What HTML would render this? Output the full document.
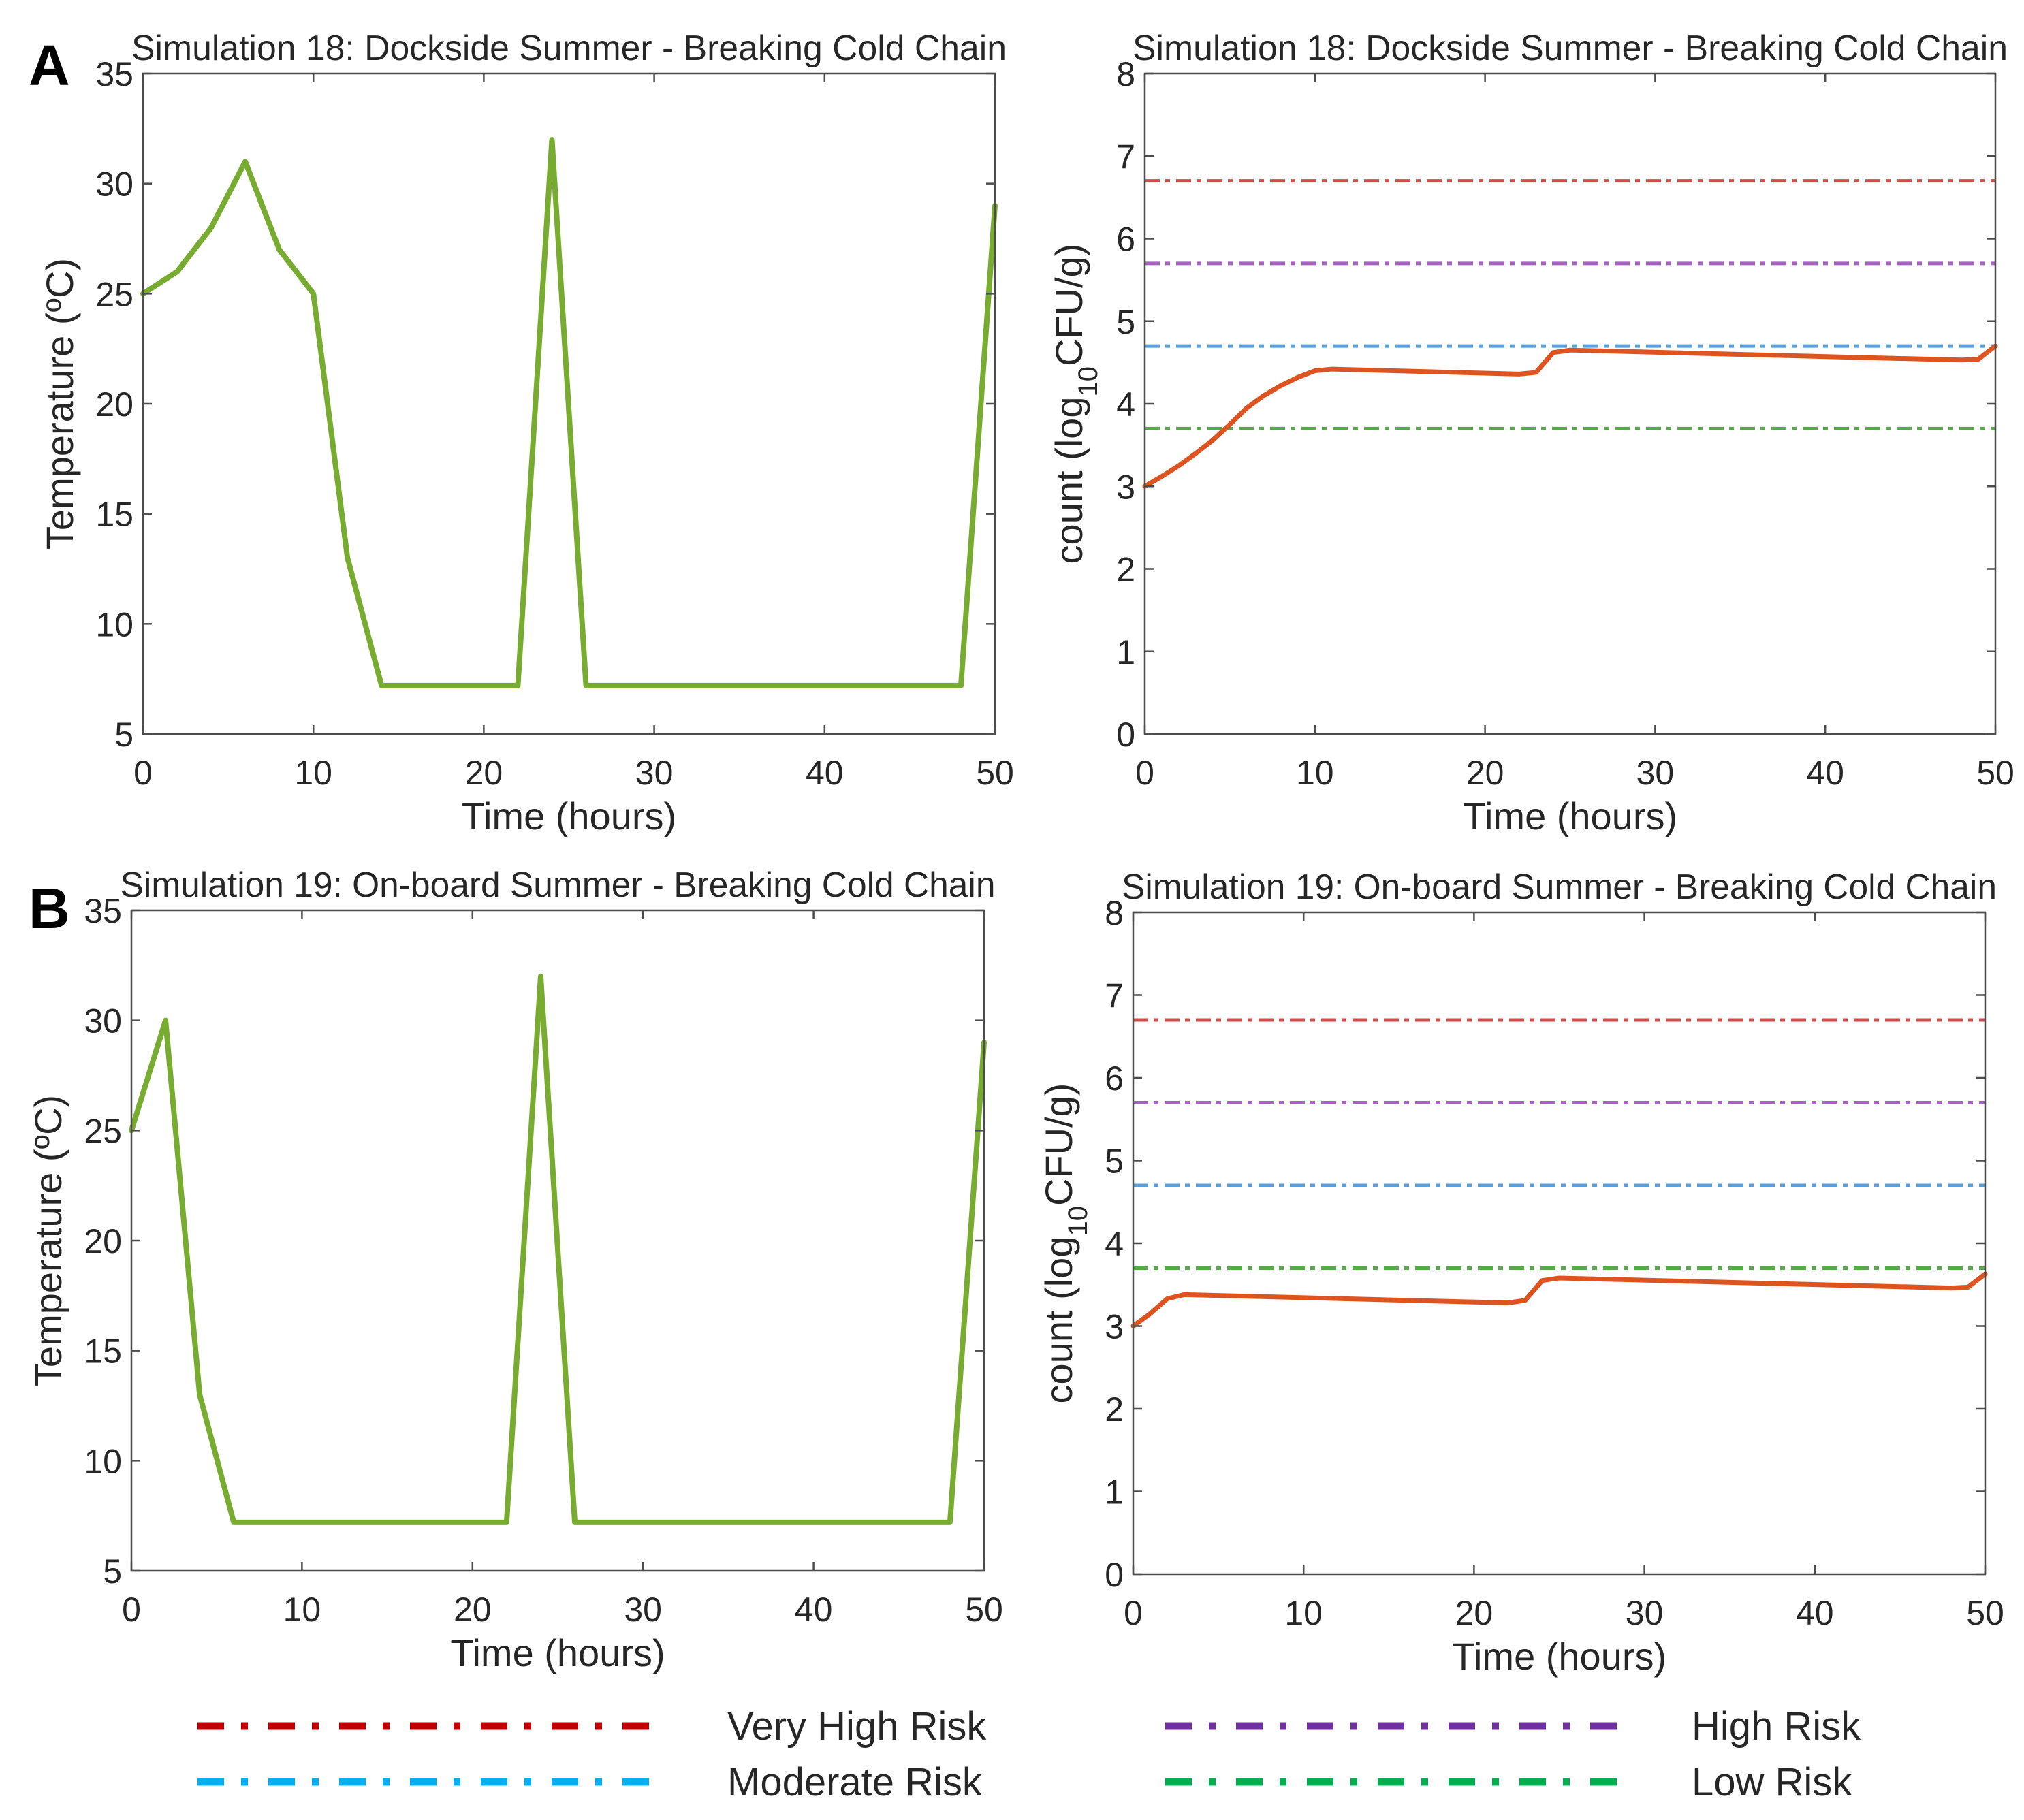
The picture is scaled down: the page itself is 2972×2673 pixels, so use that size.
<!DOCTYPE html>
<html><head><meta charset="utf-8"><style>
html,body{margin:0;padding:0;background:#fff}
svg{display:block}
text{font-family:"Liberation Sans",sans-serif;fill:#262626}
</style></head><body>
<svg id="fig" width="2972" height="2673" viewBox="0 0 2972 2673" xmlns="http://www.w3.org/2000/svg">
<text x="42" y="125" style="font-size:84px;font-weight:bold;fill:#000">A</text>
<text x="42" y="1363" style="font-size:84px;font-weight:bold;fill:#000">B</text>
<g id="legend"></g>
</svg>
<script>
const timesA = [0,2,4,6,8,10,12,14,22,24,26,48,50];
const tempA = [25,26,28,31,27,25,13,7.2,7.2,32,7.2,7.2,29];
const timesB = [0,2,4,6,22,24,26,48,50];
const tempB = [25,30,13,7.2,7.2,32,7.2,7.2,29];
const countTimesA = [0,1,2,3,4,5,6,7,8,9,10,11,22,23,24,25,48,49,50];
const countA = [3.0,3.12,3.25,3.4,3.56,3.75,3.95,4.1,4.22,4.32,4.4,4.42,4.36,4.38,4.62,4.65,4.53,4.54,4.7];
const countTimesB = [0,1,2,3,22,23,24,25,48,49,50];
const countB = [3.0,3.15,3.33,3.38,3.28,3.31,3.55,3.58,3.46,3.47,3.63];
const thresholds = [6.7,5.7,4.7,3.7];
const thresholdNames = ['very-high-risk','high-risk','moderate-risk','low-risk'];
const xTicks = [0,10,20,30,40,50];
const tempTicks = [5,10,15,20,25,30,35];
const countTicks = [0,1,2,3,4,5,6,7,8];

const NS='http://www.w3.org/2000/svg';
const svg=document.getElementById('fig');
function mk(tag,attrs,parent){const e=document.createElementNS(NS,tag);for(const k in attrs)e.setAttribute(k,attrs[k]);(parent||svg).appendChild(e);return e;}

function chart(cfg){
  const g=mk('g',{});
  
  
  const {x0,x1,y0,y1,ymin,ymax}=cfg;
  const sx=v=>x0+(v-0)/(50-0)*(x1-x0);
  const sy=v=>y1-(v-ymin)/(ymax-ymin)*(y1-y0);
  if(cfg.thr){
    const cols=['#c9504f','#a862c4','#5b9fdc','#5aa84c'];
    thresholds.forEach((t,i)=>{
      const l=mk('line',{x1:x0,x2:x1,y1:sy(t),y2:sy(t),stroke:cols[i],'stroke-width':5,'stroke-dasharray':'22 8 7 9'},g);
      
      
    });
  }
  const pts=cfg.xs.map((t,i)=>sx(t)+','+sy(cfg.ys[i])).join(' ');
  const pl=mk('polyline',{points:pts,fill:'none',stroke:cfg.color,'stroke-width':cfg.lw,'stroke-linejoin':'round','stroke-linecap':'round'},g);
  
  
  const box=mk('rect',{x:x0,y:y0,width:x1-x0,height:y1-y0,fill:'none',stroke:'#4d4d4d','stroke-width':2.5},g);
  
  
  xTicks.forEach(t=>{
    const X=sx(t);
    mk('line',{x1:X,x2:X,y1:y1,y2:y1-13,stroke:'#4d4d4d','stroke-width':2.5},g);
    mk('line',{x1:X,x2:X,y1:y0,y2:y0+13,stroke:'#4d4d4d','stroke-width':2.5},g);
    const tx=mk('text',{x:X,y:y1+74,'text-anchor':'middle','font-size':50},g);
    tx.textContent=t;
    
    
  });
  cfg.yTicks.forEach(t=>{
    const Y=sy(t);
    mk('line',{x1:x0,x2:x0+13,y1:Y,y2:Y,stroke:'#4d4d4d','stroke-width':2.5},g);
    mk('line',{x1:x1,x2:x1-13,y1:Y,y2:Y,stroke:'#4d4d4d','stroke-width':2.5},g);
    const tx=mk('text',{x:x0-14,y:Y+18,'text-anchor':'end','font-size':50},g);
    tx.textContent=t;
    
    
  });
  const tt=mk('text',{x:(x0+x1)/2,y:y0-20,'text-anchor':'middle','font-size':52,fill:'#000',textLength:1285,lengthAdjust:'spacingAndGlyphs'},g);
  tt.textContent=cfg.title;
  
  
  const xt=mk('text',{x:(x0+x1)/2,y:y1+140,'text-anchor':'middle','font-size':56},g);
  xt.textContent='Time (hours)';
  
  
  const cy=(y0+y1)/2;
  const yt=mk('text',{x:cfg.ytx,y:cy,'text-anchor':'middle','font-size':56,transform:`rotate(-90 ${cfg.ytx} ${cy})`},g);
  
  
  if(cfg.count){
    yt.innerHTML='count (log<tspan baseline-shift="sub" font-size="40">10</tspan>CFU/g)';
  } else yt.textContent='Temperature (ºC)';
}
chart({name:'chart-a-temperature',x0:210,x1:1461,y0:108,y1:1078,ymin:5,ymax:35,yTicks:tempTicks,xs:timesA,ys:tempA,color:'#77ac30',lw:8,seriesName:'temperature-line',title:'Simulation 18: Dockside Summer - Breaking Cold Chain',ytx:107});
chart({name:'chart-a-count',x0:1681,x1:2930,y0:108,y1:1078,ymin:0,ymax:8,yTicks:countTicks,xs:countTimesA,ys:countA,color:'#dd5420',lw:7,seriesName:'count-line',thr:true,count:true,title:'Simulation 18: Dockside Summer - Breaking Cold Chain',ytx:1589});
chart({name:'chart-b-temperature',x0:193,x1:1445,y0:1337,y1:2307,ymin:5,ymax:35,yTicks:tempTicks,xs:timesB,ys:tempB,color:'#77ac30',lw:8,seriesName:'temperature-line',title:'Simulation 19: On-board Summer - Breaking Cold Chain',ytx:90});
chart({name:'chart-b-count',x0:1664,x1:2915,y0:1340,y1:2312,ymin:0,ymax:8,yTicks:countTicks,xs:countTimesB,ys:countB,color:'#dd5420',lw:7,seriesName:'count-line',thr:true,count:true,title:'Simulation 19: On-board Summer - Breaking Cold Chain',ytx:1574});

const lg=document.getElementById('legend');
const legendLabels=['Very High Risk','Moderate Risk','High Risk','Low Risk'];
const legendColors=['#c00000','#00b0f0','#7030a0','#00b050'];
const lx=[[290,966,1068],[290,966,1068],[1711,2384,2484],[1711,2384,2484]];
const ly=[2535,2617,2535,2617];
legendLabels.forEach((lab,i)=>{
  const l=mk('line',{x1:lx[i][0],x2:lx[i][1],y1:ly[i],y2:ly[i],stroke:legendColors[i],'stroke-width':11,'stroke-dasharray':'39 25 10 30'},lg);
  
  
  const t=mk('text',{x:lx[i][2],y:ly[i]+20,'font-size':58,fill:'#000'},lg);
  t.textContent=lab;
  
  
});
</script>
</body></html>
